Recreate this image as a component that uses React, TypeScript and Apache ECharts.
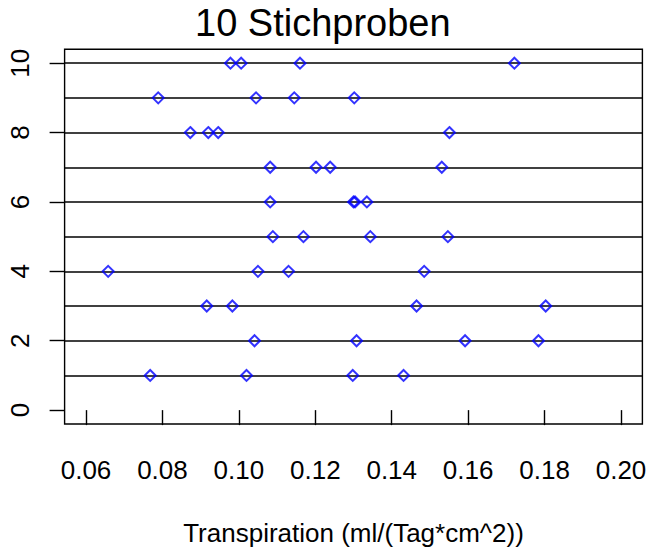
import React, { useEffect, useRef } from "react";
import * as echarts from "echarts";

const sample1 = [0.0768, 0.102, 0.1298, 0.1431];
const sample2 = [0.1041, 0.1308, 0.1592, 0.1784];
const sample3 = [0.0916, 0.0983, 0.1465, 0.1803];
const sample4 = [0.0658, 0.105, 0.113, 0.1485];
const sample5 = [0.1089, 0.1169, 0.1344, 0.1547];
const sample6 = [0.1082, 0.13, 0.1304, 0.1335];
const sample7 = [0.1082, 0.1202, 0.1239, 0.1531];
const sample8 = [0.0873, 0.092, 0.0946, 0.1551];
const sample9 = [0.0789, 0.1045, 0.1145, 0.1302];
const sample10 = [0.0978, 0.1006, 0.116, 0.1721];

const samples = [sample1, sample2, sample3, sample4, sample5, sample6, sample7, sample8, sample9, sample10];
const sampleIndex = [1, 2, 3, 4, 5, 6, 7, 8, 9, 10];
const xTicks = [0.06, 0.08, 0.1, 0.12, 0.14, 0.16, 0.18, 0.2];
const yTicks = [0, 2, 4, 6, 8, 10];

const titleText = "10 Stichproben";
const xLabel = "Transpiration (ml/(Tag*cm^2))";

const FONT = "'Liberation Sans', Arial, Helvetica, sans-serif";

export default function App() {
  const ref = useRef<HTMLDivElement>(null);
  useEffect(() => {
    if (!ref.current) return;
    const chart = echarts.init(ref.current, null, { renderer: "svg" });
    const points: number[][] = [];
    samples.forEach((s, i) => s.forEach((v) => points.push([v, sampleIndex[i]])));
    chart.setOption({
      animation: false,
      backgroundColor: "#ffffff",
      title: {
        text: titleText,
        left: 195,
        top: 4,
        padding: 0,
        textStyle: { fontFamily: FONT, fontSize: 38, fontWeight: "normal", color: "#000" },
      },
      grid: {
        left: 64.6,
        top: 49.3,
        right: 7.6,
        bottom: 123.7,
        show: true,
        borderColor: "#000",
        borderWidth: 1.4,
        backgroundColor: "transparent",
      },
      xAxis: {
        type: "value",
        min: 0.0544,
        max: 0.2056,
        name: xLabel,
        nameLocation: "middle",
        nameGap: 96,
        nameTextStyle: { fontFamily: FONT, fontSize: 26, color: "#000" },
        axisLine: { show: false },
        splitLine: { show: false },
        axisTick: {
          show: true,
          customValues: xTicks,
          length: 15,
          lineStyle: { color: "#000", width: 1.4 },
        },
        axisLabel: {
          customValues: xTicks,
          margin: 33,
          fontFamily: FONT,
          fontSize: 26,
          color: "#000",
          formatter: (v: number) => v.toFixed(2),
        },
      },
      yAxis: {
        type: "value",
        min: -0.4,
        max: 10.4,
        axisLine: { show: false },
        splitLine: { show: false },
        axisTick: {
          show: true,
          customValues: yTicks,
          length: 15,
          lineStyle: { color: "#000", width: 1.4 },
        },
        axisLabel: {
          customValues: yTicks,
          rotate: 90,
          margin: 32,
          fontFamily: FONT,
          fontSize: 26,
          color: "#000",
          formatter: (v: number) => String(Math.round(v)),
        },
      },
      series: [
        {
          type: "scatter",
          data: points,
          symbol: "diamond",
          symbolSize: 11,
          z: 3,
          itemStyle: { color: "rgba(0,0,0,0)", borderColor: "#0000ff", borderWidth: 2 },
          markLine: {
            silent: true,
            symbol: "none",
            z: 1,
            label: { show: false },
            lineStyle: { color: "#000", width: 1.5, type: "solid" },
            data: sampleIndex.map((y) => ({ yAxis: y })),
          },
        },
      ],
    });
    return () => chart.dispose();
  }, []);
  return (
    <div
      ref={ref}
      style={{ position: "fixed", left: 0, top: 0, width: 650, height: 551, background: "#fff" }}
    />
  );
}
